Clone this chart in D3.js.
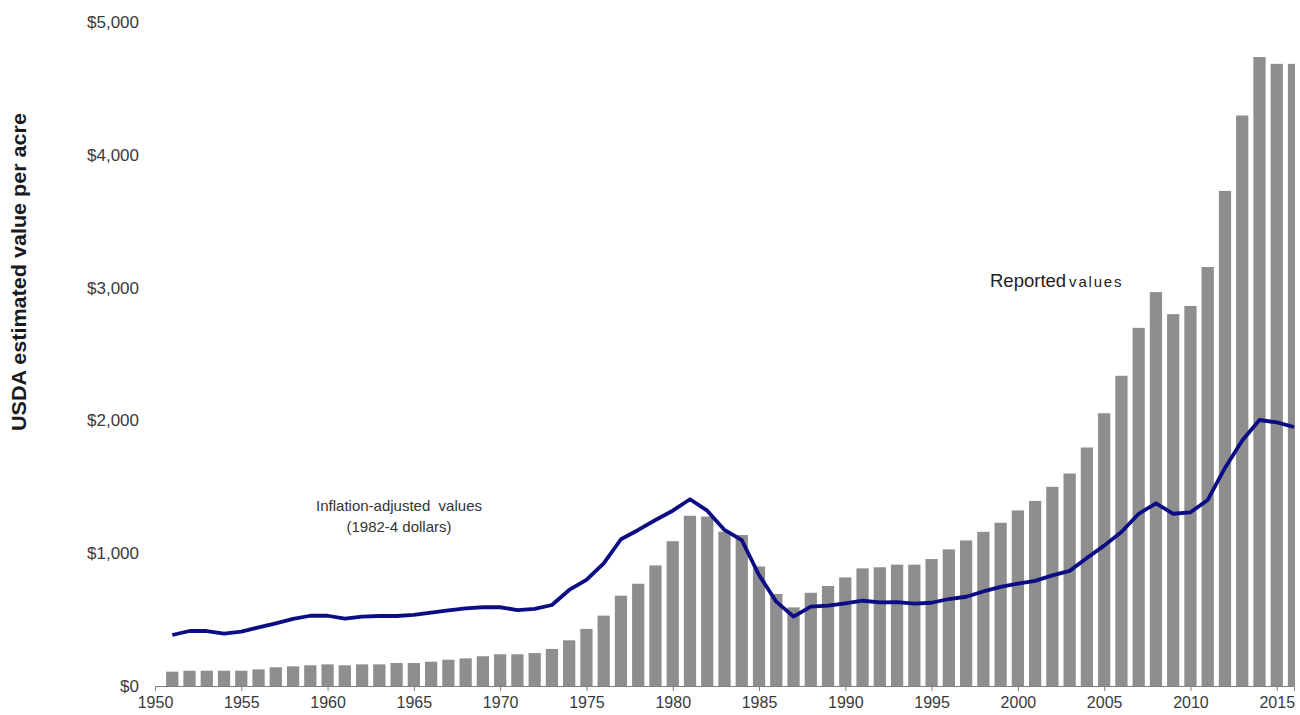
<!DOCTYPE html>
<html>
<head>
<meta charset="utf-8">
<script src="https://d3js.org/d3.v7.min.js"></script>
<style>
  body { margin: 0; background: #fff; }
  text { font-family: Arial, "Liberation Sans", sans-serif; }
</style>
</head>
<body>
<div id="chart"></div>
<script>
var years = [1951,1952,1953,1954,1955,1956,1957,1958,1959,1960,
             1961,1962,1963,1964,1965,1966,1967,1968,1969,1970,
             1971,1972,1973,1974,1975,1976,1977,1978,1979,1980,
             1981,1982,1983,1984,1985,1986,1987,1988,1989,1990,
             1991,1992,1993,1994,1995,1996,1997,1998,1999,2000,
             2001,2002,2003,2004,2005,2006,2007,2008,2009,2010,
             2011,2012,2013,2014,2015,2016];

// reported values (bars)
var reported = [108,115,115,115,115,125,141,148,156,163,
                156,163,163,173,173,183,198,208,224,239,
                239,248,279,344,430,530,680,770,908,1090,
                1282,1276,1162,1137,900,693,592,702,753,818,
                886,894,914,914,956,1029,1096,1161,1229,1322,
                1394,1500,1600,1796,2054,2336,2697,2966,2800,2862,
                3155,3728,4296,4736,4685,4685];

// inflation-adjusted values, 1982-4 dollars (line)
var adjusted = [384,414,414,394,409,442,472,505,529,529,
                507,522,527,527,535,552,570,585,593,593,
                572,580,610,723,800,924,1105,1175,1250,1320,
                1406,1320,1175,1099,836,635,522,597,605,623,
                642,630,631,620,627,655,672,712,747,771,
                792,833,867,964,1057,1160,1297,1376,1297,1308,
                1401,1642,1848,2003,1985,1950];

var xTicks = [1950,1955,1960,1965,1970,1975,1980,1985,1990,1995,2000,2005,2010,2015];
var yTicks = [0,1000,2000,3000,4000,5000];

var W = 1300, H = 715;
var margin = {left: 155, right: 1294, top: 22, bottom: 686};

var svg = d3.select("#chart")
            .append("svg")
            .attr("width", W)
            .attr("height", H);

var x = d3.scaleLinear().domain([1950, 2016]).range([margin.left, margin.right]);
var y = d3.scaleLinear().domain([0, 5000]).range([margin.bottom, margin.top]);
var barW = (x(1951) - x(1950)) * 0.71;

svg.append("clipPath")
    .attr("id", "plot")
  .append("rect")
    .attr("x", margin.left)
    .attr("y", 0)
    .attr("width", margin.right - margin.left + 1)
    .attr("height", margin.bottom);

svg.append("g")
    .attr("clip-path", "url(#plot)")
  .selectAll("rect")
    .data(reported)
    .enter()
    .append("rect")
    .attr("x", function(d, i) { return x(years[i]) - barW / 2; })
    .attr("y", function(d) { return y(d); })
    .attr("width", barW)
    .attr("height", function(d) { return margin.bottom - y(d); })
    .attr("fill", "#8e8e8e");

// x axis
var xAxis = svg.append("g")
    .attr("transform", "translate(0," + margin.bottom + ")")
    .call(d3.axisBottom(x).tickValues(xTicks).tickFormat(d3.format("d")).tickSizeOuter(0).tickSize(5).tickPadding(6));
xAxis.select(".domain").attr("stroke", "#808080");
xAxis.selectAll(".tick line").attr("stroke", "#808080");
xAxis.selectAll(".tick text")
    .attr("font-family", "Arial, 'Liberation Sans', sans-serif")
    .attr("font-size", "16px")
    .attr("fill", "#3a3a3a");

// y axis labels only
var yAxis = svg.append("g")
    .attr("transform", "translate(" + margin.left + ",0)")
    .call(d3.axisLeft(y).tickValues(yTicks).tickFormat(function(d) { return "$" + d3.format(",")(d); }).tickSize(0).tickPadding(16));
yAxis.select(".domain").remove();
yAxis.selectAll(".tick text")
    .attr("font-family", "Arial, 'Liberation Sans', sans-serif")
    .attr("font-size", "17px")
    .attr("fill", "#3a3a3a");

var line = d3.line()
    .x(function(d, i) { return x(years[i]); })
    .y(function(d) { return y(d); });

svg.append("path")
    .datum(adjusted)
    .attr("d", line)
    .attr("fill", "none")
    .attr("stroke", "#0c0c85")
    .attr("stroke-width", 3.8)
    .attr("stroke-linejoin", "round");

svg.append("text")
    .attr("transform", "translate(26,272) rotate(-90)")
    .attr("text-anchor", "middle")
    .attr("font-size", "20px")
    .attr("font-weight", "bold")
    .attr("fill", "#1a1a1a")
    .attr("textLength", 318)
    .attr("lengthAdjust", "spacingAndGlyphs")
    .text("USDA estimated value per acre");

svg.append("text")
    .attr("x", 399)
    .attr("y", 511)
    .attr("text-anchor", "middle")
    .attr("font-size", "15px")
    .attr("fill", "#333")
    .attr("xml:space", "preserve")
    .text("Inflation-adjusted  values");

svg.append("text")
    .attr("x", 399)
    .attr("y", 532)
    .attr("text-anchor", "middle")
    .attr("font-size", "15px")
    .attr("fill", "#333")
    .text("(1982-4 dollars)");

var rep = svg.append("text")
    .attr("x", 990)
    .attr("y", 287)
    .attr("fill", "#222");
rep.append("tspan")
    .attr("font-size", "18.5px")
    .text("Reported");
rep.append("tspan")
    .attr("dx", 3)
    .attr("font-size", "15px")
    .attr("letter-spacing", "1.8px")
    .text("values");
</script>
</body>
</html>
